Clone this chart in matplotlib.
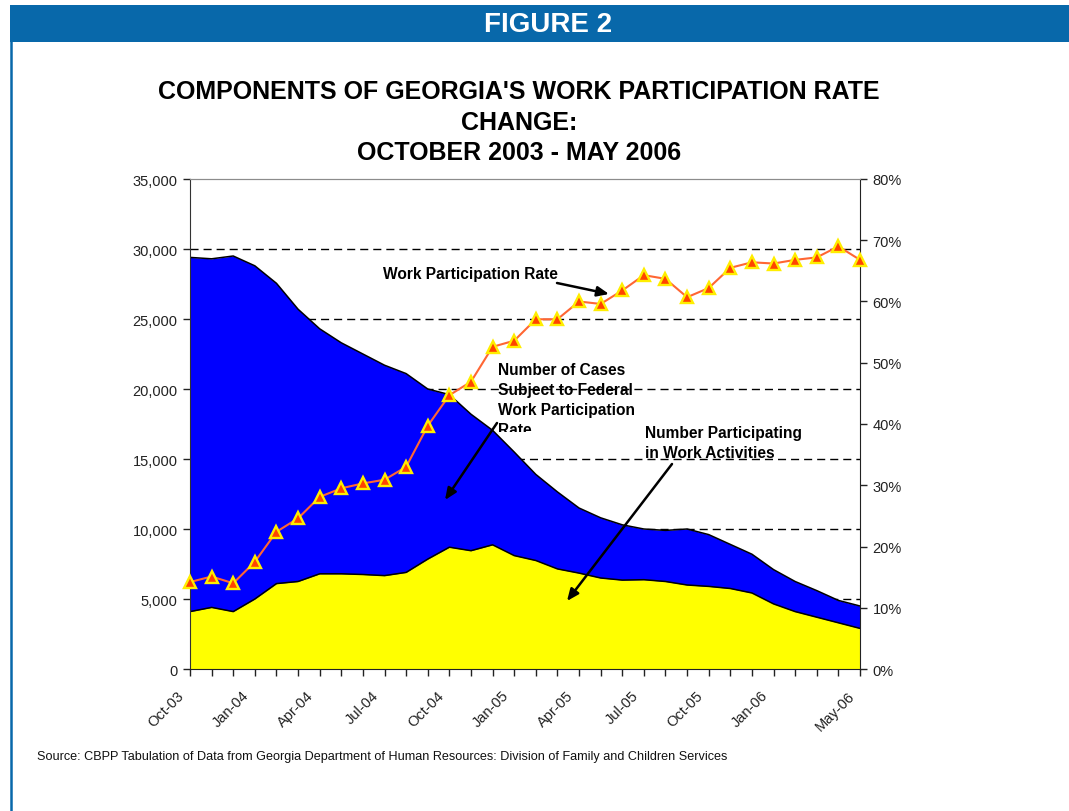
import matplotlib
matplotlib.use("Agg")
import matplotlib.pyplot as plt
from matplotlib.patches import Rectangle
from matplotlib.lines import Line2D
from matplotlib.ticker import FuncFormatter, PercentFormatter
from matplotlib import transforms as mtrans
from matplotlib import font_manager as fm

# ---------------- data ----------------
months = ["Oct-03", "Nov-03", "Dec-03", "Jan-04", "Feb-04", "Mar-04", "Apr-04", "May-04",
          "Jun-04", "Jul-04", "Aug-04", "Sep-04", "Oct-04", "Nov-04", "Dec-04", "Jan-05",
          "Feb-05", "Mar-05", "Apr-05", "May-05", "Jun-05", "Jul-05", "Aug-05", "Sep-05",
          "Oct-05", "Nov-05", "Dec-05", "Jan-06", "Feb-06", "Mar-06", "Apr-06", "May-06"]
shown_labels = ["Oct-03", "Jan-04", "Apr-04", "Jul-04", "Oct-04", "Jan-05", "Apr-05",
                "Jul-05", "Oct-05", "Jan-06", "May-06"]

cases_subject = [29400, 29300, 29500, 28800, 27550, 25700, 24300, 23300, 22500, 21700,
                 21100, 20000, 19600, 18200, 17050, 15500, 13900, 12650, 11500, 10800,
                 10300, 10000, 9900, 10000, 9600, 8900, 8200, 7100, 6250, 5600, 4900, 4500]
participating = [4100, 4400, 4100, 5000, 6100, 6250, 6800, 6800, 6750, 6670, 6900, 7850,
                 8700, 8450, 8870, 8100, 7750, 7150, 6850, 6500, 6350, 6380, 6250, 6000,
                 5900, 5750, 5430, 4650, 4100, 3700, 3300, 2900]
rate_pct = [14.2, 15.1, 14.0, 17.5, 22.4, 24.6, 28.1, 29.5, 30.3, 30.9, 33.0, 39.7, 44.7,
            46.9, 52.6, 53.6, 57.1, 57.1, 60.0, 59.6, 61.8, 64.3, 63.7, 60.7, 62.2, 65.5,
            66.4, 66.2, 66.8, 67.2, 69.0, 66.8]

left_ticks = [0, 5000, 10000, 15000, 20000, 25000, 30000, 35000]
right_ticks = [0, 10, 20, 30, 40, 50, 60, 70, 80]

# ---------------- fonts ----------------
names = {f.name for f in fm.fontManager.ttflist}
SANS = "Liberation Sans" if "Liberation Sans" in names else "DejaVu Sans"
plt.rcParams["font.family"] = [SANS, "DejaVu Sans"]

W, H = 1069, 812
fig = plt.figure(figsize=(W / 100, H / 100), dpi=100)
fig.patch.set_facecolor("white")


def fx(px):
    return px / W


def fy(py):
    return 1 - py / H


# header bar and left border
fig.patches.append(Rectangle((fx(10), fy(43)), 1 - fx(10), fy(6) - fy(43),
                             transform=fig.transFigure, facecolor="#0868AA",
                             edgecolor="none", zorder=0))
fig.lines.append(Line2D([fx(11), fx(11)], [fy(43), 0], transform=fig.transFigure,
                        color="#0868AA", lw=1.8))
fig.text(fx(548), fy(24.5), "FIGURE 2", color="white", fontsize=20, fontweight="bold",
         ha="center", va="center")

# title
for txt, yy in [("COMPONENTS OF GEORGIA'S WORK PARTICIPATION RATE", 92),
                ("CHANGE:", 123), ("OCTOBER 2003 - MAY 2006", 153)]:
    fig.text(fx(519), fy(yy), txt, fontsize=18, fontweight="bold", ha="center",
             va="center", color="black")

# source
fig.text(fx(37), fy(757),
         "Source: CBPP Tabulation of Data from Georgia Department of Human Resources: "
         "Division of Family and Children Services",
         fontsize=9.1, ha="left", va="center", color="#111111")

# ---------------- axes ----------------
L, R, T, B = 190, 860, 180, 670
ax = fig.add_axes([fx(L), fy(B), fx(R) - fx(L), fy(T) - fy(B)])
x = list(range(len(months)))

ax.fill_between(x, cases_subject, color="#0000FF", lw=0, zorder=1)
ax.plot(x, cases_subject, color="black", lw=1.1, zorder=1.2)
ax.fill_between(x, participating, color="#FFFF00", lw=0, zorder=1.3)
ax.plot(x, participating, color="black", lw=1.1, zorder=1.4)

ax.set_xlim(0, len(months) - 1)
ax.set_ylim(0, 35000)
ax.set_yticks(left_ticks)
ax.yaxis.set_major_formatter(FuncFormatter(lambda v, p: f"{int(v):,}"))
ax.set_xticks(x)
ax.set_xticklabels([])

# month labels, rotated, placed under their ticks
lab_off = mtrans.ScaledTranslation(-13 / 100, -19 / 100, fig.dpi_scale_trans)
for i, m in enumerate(months):
    if m in shown_labels:
        ax.text(i, 0, m, transform=ax.get_xaxis_transform() + lab_off, rotation=45,
                ha="right", va="top", rotation_mode="anchor", fontsize=10.5,
                color="#222222", clip_on=False)

ax.set_axisbelow(True)  # grid behind the filled areas
ax.yaxis.grid(True, color="black", lw=1.0, ls=(0, (5.8, 3.6)))
gl = ax.get_ygridlines()
gl[0].set_visible(False)
gl[-1].set_visible(False)

ax.tick_params(axis="y", direction="out", length=5, width=1, labelsize=10.5, pad=4,
               colors="#222222")
ax.tick_params(axis="x", direction="out", length=5, width=1, colors="#222222")
ax.spines["left"].set_color("#333333")
ax.spines["bottom"].set_color("#222222")
ax.spines["top"].set_color("#8c8c8c")
ax.spines["right"].set_visible(False)

# annotations (text behind grid and areas, like the original)
ax.text(fx(383), fy(275), "Work Participation Rate", transform=fig.transFigure,
        fontsize=11.2, fontweight="bold", ha="left", va="center", zorder=0.4)
t_cases = ax.text(fx(498), fy(363),
                  "Number of Cases\nSubject to Federal\nWork Participation\nRate",
                  transform=fig.transFigure, fontsize=11.2, fontweight="bold", ha="left",
                  va="top", linespacing=1.41, zorder=0.4)
# the original text box cuts off its last line
clip_rect = Rectangle((fx(480), fy(433)), fx(700) - fx(480), fy(340) - fy(433),
                      transform=fig.transFigure, facecolor="none", edgecolor="none")
t_cases.set_clip_path(clip_rect)
t_cases.set_clip_on(True)
ax.text(fx(645), fy(426), "Number Participating\nin Work Activities",
        transform=fig.transFigure, fontsize=11.2, fontweight="bold", ha="left", va="top",
        linespacing=1.41, zorder=0.4)

arrow_kw = dict(arrowstyle="-|>,head_length=0.7,head_width=0.3", color="black", lw=1.8,
                shrinkA=0, shrinkB=0)
for (x0, y0), (x1, y1) in [((557, 284), (609, 295)),
                           ((497, 424), (445, 501)),
                           ((672, 465), (567, 602))]:
    ax.annotate("", xy=(fx(x1), fy(y1)), xycoords="figure fraction",
                xytext=(fx(x0), fy(y0)), textcoords="figure fraction",
                arrowprops=arrow_kw, zorder=5)

# ---------------- right axis ----------------
ax2 = ax.twinx()
ax2.plot(x, rate_pct, color="#FF6633", lw=1.5, marker="^", ms=8,
         mfc="#FF4400", mec="#FFEE00", mew=1.7, zorder=3, clip_on=False)
ax2.set_ylim(0, 80)
ax2.set_yticks(right_ticks)
ax2.yaxis.set_major_formatter(PercentFormatter(decimals=0))
ax2.tick_params(axis="y", direction="out", length=5, width=1, labelsize=10.5, pad=4,
                colors="#222222")
ax2.spines["right"].set_color("#222222")
ax2.spines["top"].set_color("#8c8c8c")
ax2.spines["left"].set_visible(False)
ax2.spines["bottom"].set_visible(False)
ax2.patch.set_visible(False)

fig.savefig("out.png", dpi=100)
